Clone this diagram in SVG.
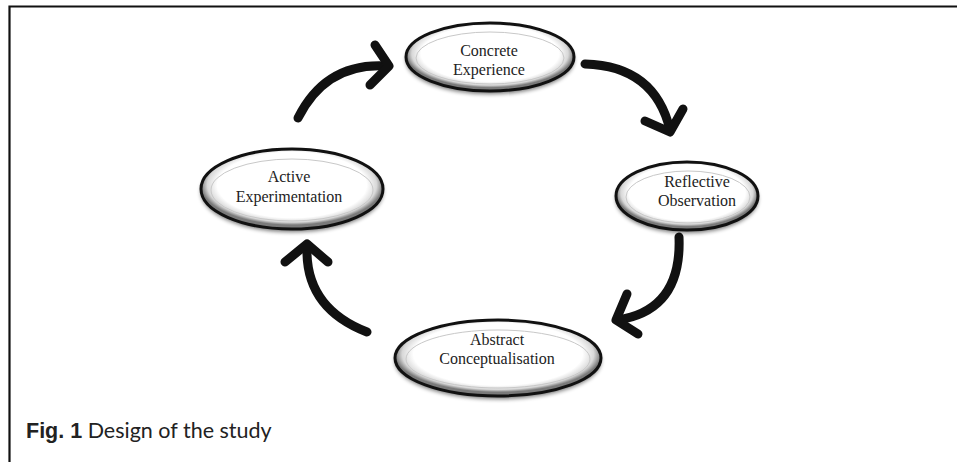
<svg xmlns="http://www.w3.org/2000/svg" width="957" height="462" viewBox="0 0 957 462">
  <defs>
    <radialGradient id="rim" cx="50%" cy="45%" r="50%">
      <stop offset="0" stop-color="#ffffff"/>
      <stop offset="0.82" stop-color="#ffffff"/>
      <stop offset="0.93" stop-color="#d8d8d8"/>
      <stop offset="1" stop-color="#7a7a7a"/>
    </radialGradient>
    <filter id="soft" x="-20%" y="-20%" width="140%" height="140%">
      <feGaussianBlur stdDeviation="2"/>
    </filter>
    <style>
      .shadow { fill: #000; opacity: 0.55; filter: url(#soft); }
      .outer { fill: url(#rim); stroke: #111; stroke-width: 3; }
      .inner { fill: none; stroke: #c8c8c8; stroke-width: 1; }
      .label { font-family: "Liberation Serif", "Times New Roman", serif; font-size: 16px; fill: #222; text-anchor: middle; }
      .arrow { fill: none; stroke: #111; stroke-width: 9; stroke-linecap: round; stroke-linejoin: round; }
      .frame { fill: none; stroke: #111; stroke-width: 2.2; }
      .cap-bold { font-family: "Liberation Sans", Arial, sans-serif; font-weight: bold; font-size: 21.5px; fill: #222; }
      .cap { font-family: Lato, "Liberation Sans", sans-serif; font-size: 21.5px; fill: #222; }
    </style>
  </defs>

  <rect width="957" height="462" fill="#ffffff"/>

  <!-- figure frame: top and left rules only -->
  <path class="frame" d="M9.5,462 V6.5 H957"/>

  <!-- cycle connectors -->
  <g id="connectors">
    <g id="ce-to-ro">
      <path class="arrow" d="M585,64 Q655,66 670,130"/>
      <path class="arrow" d="M645,121 L670,132 L683,109"/>
    </g>
    <g id="ro-to-ac">
      <path class="arrow" d="M679,237 Q682,310 618,320"/>
      <path class="arrow" d="M627,294 L616,320 L638,334"/>
    </g>
    <g id="ac-to-ae">
      <path class="arrow" d="M367,332 Q305,308 307,247"/>
      <path class="arrow" d="M285,262 L307,244 L328,262"/>
    </g>
    <g id="ae-to-ce">
      <path class="arrow" d="M298,118 Q326,62 387,66"/>
      <path class="arrow" d="M375,45 L389,66 L370,85"/>
    </g>
  </g>

  <g id="concrete-experience">
    <ellipse class="shadow" cx="490" cy="60" rx="84" ry="34"/>
    <ellipse class="outer" cx="490" cy="57" rx="84" ry="34"/>
    <ellipse class="inner" cx="490" cy="58" rx="74" ry="26"/>
    <text class="label" x="489" y="56">Concrete</text>
    <text class="label" x="489" y="75">Experience</text>
  </g>

  <g id="reflective-observation">
    <ellipse class="shadow" cx="687" cy="199" rx="71" ry="34"/>
    <ellipse class="outer" cx="687" cy="196" rx="71" ry="34"/>
    <ellipse class="inner" cx="688" cy="197" rx="62" ry="26"/>
    <text class="label" x="697" y="187">Reflective</text>
    <text class="label" x="697" y="206">Observation</text>
  </g>

  <g id="abstract-conceptualisation">
    <ellipse class="shadow" cx="498" cy="361" rx="103" ry="38"/>
    <ellipse class="outer" cx="498" cy="358" rx="103" ry="38"/>
    <ellipse class="inner" cx="498" cy="359" rx="92" ry="29"/>
    <text class="label" x="497" y="345">Abstract</text>
    <text class="label" x="497" y="364">Conceptualisation</text>
  </g>

  <g id="active-experimentation">
    <ellipse class="shadow" cx="292" cy="192" rx="91" ry="40"/>
    <ellipse class="outer" cx="292" cy="189" rx="91" ry="40"/>
    <ellipse class="inner" cx="292" cy="190" rx="81" ry="31"/>
    <text class="label" x="289" y="182">Active</text>
    <text class="label" x="289" y="202">Experimentation</text>
  </g>

  <!-- caption -->
  <text x="26" y="438"><tspan class="cap-bold">Fig. 1</tspan><tspan class="cap"> Design of the study</tspan></text>
</svg>
